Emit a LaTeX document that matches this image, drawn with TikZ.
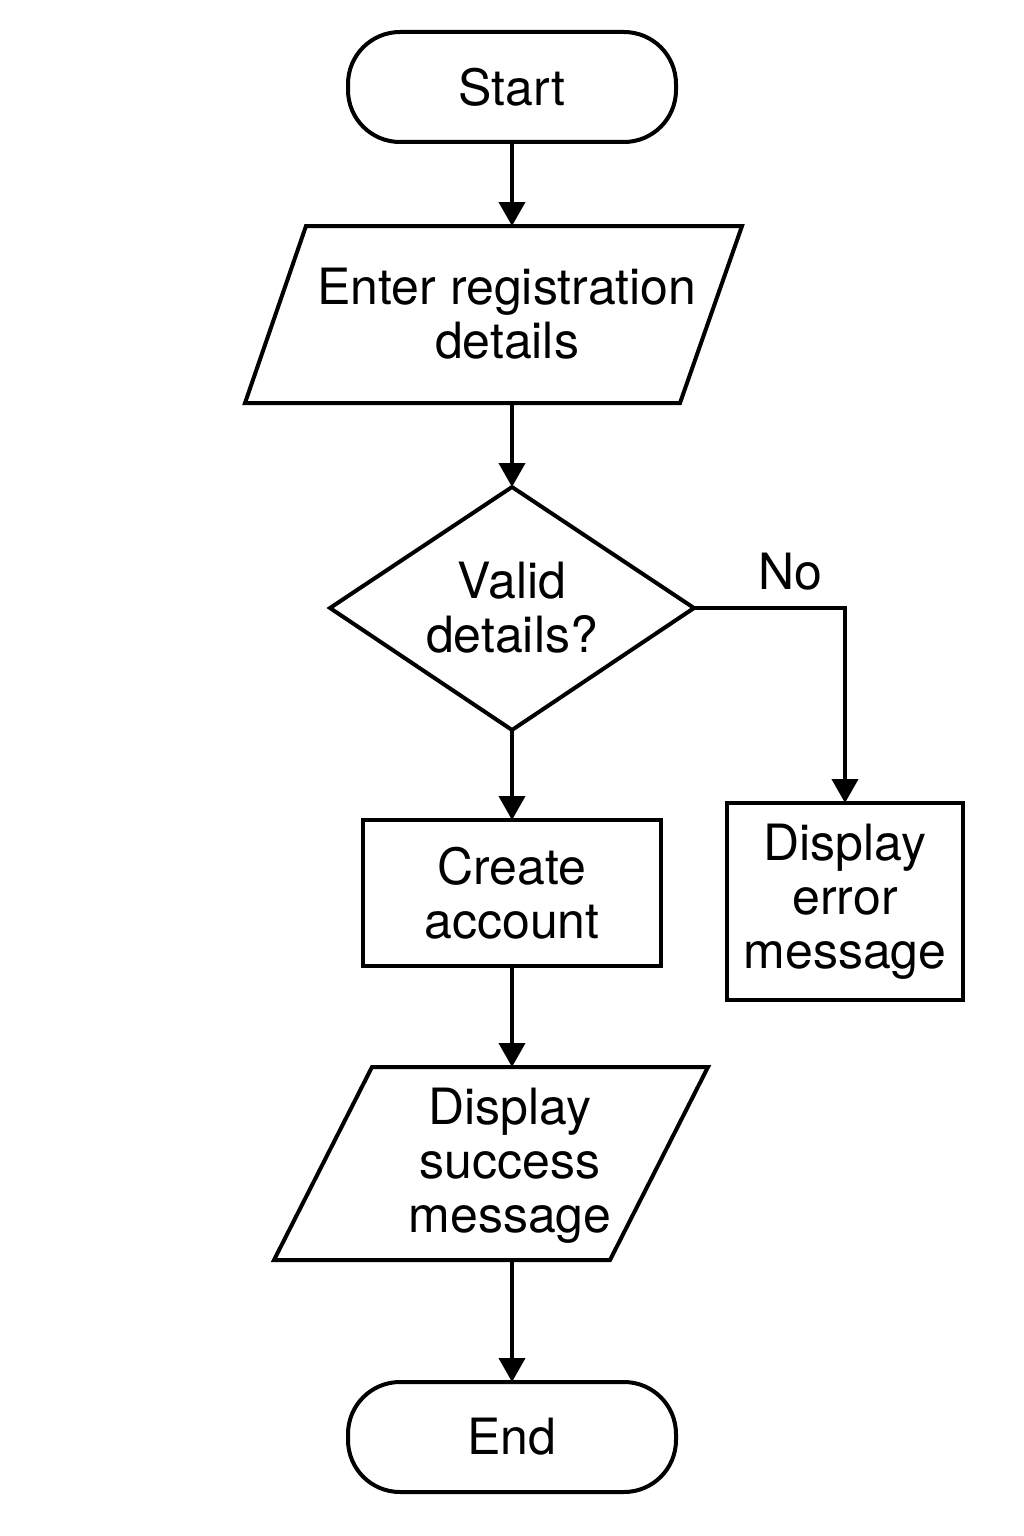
\documentclass[tikz,border=0pt]{standalone}
\usepackage{fontspec}
\setmainfont{TeX Gyre Heros}
\usetikzlibrary{arrows.meta}
\begin{document}
\begin{tikzpicture}[x=1pt,y=-1pt,
  line width=4pt,
  txt/.style={font=\fontsize{50}{54}\selectfont, align=center, inner sep=0pt},
  term/.style={draw, rounded corners=52pt, minimum width=328pt, minimum height=110pt, inner sep=0pt, outer sep=0pt, txt},
  proc/.style={draw, inner sep=0pt, outer sep=0pt, txt},
  anchorbox/.style={inner sep=0pt, outer sep=0pt, minimum width=0pt},
  arr/.style={-{Triangle[width=26pt,length=24pt]}, line width=4pt}
]
\fill[white] (0,0) rectangle (1024,1536);
\useasboundingbox (0,0) rectangle (1024,1536);

% Start
\node[term] (start) at (512,87) {Start};

% Enter registration details (parallelogram)
\coordinate (e1) at (306,226);
\coordinate (e2) at (742,226);
\coordinate (e3) at (680,403);
\coordinate (e4) at (245,403);
\draw (e1) -- (e2) -- (e3) -- (e4) -- cycle;
\node[anchorbox, minimum height=177pt] (enter) at (512,314.5) {};
\node[txt] (entertxt) at (507,314) {Enter registration\\details};

% Decision diamond
\coordinate (dtop) at (512,487);
\coordinate (dright) at (694,608);
\coordinate (dbottom) at (512,730);
\coordinate (dleft) at (330,608);
\draw (dtop) -- (dright) -- (dbottom) -- (dleft) -- cycle;
\node[txt] (validtxt) at (512,608) {Valid\\details?};

% Create account
\node[proc, minimum width=298pt, minimum height=146pt] (create) at (512,893) {Create\\account};

% Display error message
\node[proc, minimum width=236pt, minimum height=197pt] (error) at (845,901.5) {Display\\error\\message};

% Display success message (parallelogram)
\coordinate (s1) at (372,1067);
\coordinate (s2) at (708,1067);
\coordinate (s3) at (610,1260);
\coordinate (s4) at (274,1260);
\draw (s1) -- (s2) -- (s3) -- (s4) -- cycle;
\node[anchorbox, minimum height=193pt] (success) at (512,1163.5) {};
\node[txt] (successtxt) at (510,1166) {Display\\success\\message};

% End
\node[term] (end) at (512,1437) {End};

% Connectors
\draw[arr] (start.south) -- (enter.north);
\draw[arr] (enter.south) -- (dtop);
\draw[arr] (dbottom) -- (create.north);
\draw[arr] (dright) -| (error.north);
\node[txt] (nolabel) at (790,572) {No};
\draw[arr] (create.south) -- (success.north);
\draw[arr] (success.south) -- (end.north);
\end{tikzpicture}
\end{document}
